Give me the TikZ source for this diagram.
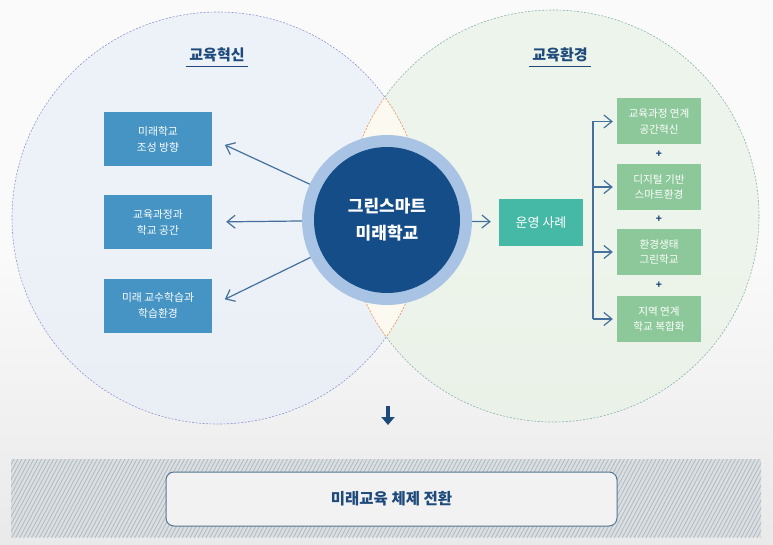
\documentclass[tikz,border=0pt]{standalone}
\usepackage{fontspec}
\setmainfont{Noto Sans CJK KR}
\usetikzlibrary{arrows.meta, positioning, patterns.meta}
\definecolor{innoBlue}{HTML}{4594C3}
\definecolor{envGreen}{HTML}{8DC89B}
\definecolor{caseTeal}{HTML}{45B9A6}
\definecolor{coreBlue}{HTML}{154D89}
\definecolor{ringBlue}{HTML}{A8C3E3}
\definecolor{lineBlue}{HTML}{45709D}
\definecolor{titleBlue}{HTML}{1E4A7B}
\definecolor{fieldBlue}{HTML}{E6EEF7}
\definecolor{fieldGreen}{HTML}{E6F2E4}
\definecolor{lensCream}{HTML}{FCFAF0}
\definecolor{bandGray}{HTML}{DCDFE1}
\definecolor{hatchGray}{HTML}{B0BCC4}
\tikzset{
    innoBox/.style={rectangle, fill=innoBlue, text=white, align=center, minimum width=108pt, minimum height=54pt, font=\fontsize{10.8}{16}\selectfont},
    envBox/.style={rectangle, fill=envGreen, text=white, align=center, minimum width=84pt, minimum height=46pt, font=\fontsize{10.6}{15.5}\selectfont},
    flowArrow/.style={-{Straight Barb[length=8pt, width=13pt]}, line width=1.2pt, draw=lineBlue},
    sideTitle/.style={text=titleBlue, font=\fontsize{15}{17}\selectfont\bfseries},
    plusSign/.style={text=titleBlue, font=\fontsize{10}{10}\selectfont\bfseries, inner sep=0pt}
}
\begin{document}
\begin{tikzpicture}[x=1pt, y=-1pt]
    \useasboundingbox (0,0) rectangle (773,545);
    % background
    \fill[white!96!gray] (0,0) rectangle (773,250);
    \shade[top color=white!96!gray, bottom color=white!83!gray] (0,250) rectangle (773,545);
    % the two fields
    \coordinate (lc) at (218,218);  \coordinate (rc) at (553,216);
    \fill[fieldBlue, opacity=0.65] (lc) circle[radius=206pt];
    \fill[fieldGreen, opacity=0.65] (rc) circle[radius=206pt];
    \draw[gray!60!blue!60, line width=0.6pt, dash pattern=on 2pt off 1.5pt] (lc) circle[radius=206pt];
    \draw[teal!50!gray!60, line width=0.6pt, dash pattern=on 2pt off 1.5pt] (rc) circle[radius=206pt];
    \begin{scope}
        \clip (lc) circle[radius=206pt];
        \fill[lensCream] (rc) circle[radius=206pt];
        \draw[orange!70!red!60, line width=0.6pt, dash pattern=on 2pt off 1.5pt] (rc) circle[radius=206pt];
    \end{scope}
    \begin{scope}
        \clip (rc) circle[radius=206pt];
        \draw[orange!70!red!60, line width=0.6pt, dash pattern=on 2pt off 1.5pt] (lc) circle[radius=206pt];
    \end{scope}

    % titles
    \node[sideTitle] (tInno) at (217,55) {교육혁신};
    \node[sideTitle] (tEnv) at (560,55) {교육환경};
    \draw[titleBlue, line width=1pt] ([yshift=-1pt]tInno.south west) -- ([yshift=-1pt]tInno.south east);
    \draw[titleBlue, line width=1pt] ([yshift=-1pt]tEnv.south west) -- ([yshift=-1pt]tEnv.south east);

    % centre
    \node[circle, fill=ringBlue, minimum size=170pt] (core) at (387,220) {};
    \node[circle, fill=coreBlue, minimum size=146pt, text=white, align=center,
          font=\fontsize{17}{27}\selectfont\bfseries] (coreIn) at (core) {그린스마트\\미래학교};

    % left side
    \node[innoBox] (i1) at (158,139) {미래학교\\조성 방향};
    \node[innoBox] (i2) at (158,222) {교육과정과\\학교 공간};
    \node[innoBox] (i3) at (158,305.5) {미래 교수학습과\\학습환경};
    \foreach \k in {1,2,3}
        \draw[flowArrow, shorten >=14pt] (core) -- (i\k.east);

    % right side
    \node[rectangle, fill=caseTeal, text=white, minimum width=84pt, minimum height=47pt,
          font=\fontsize{13}{15}\selectfont] (case) at (541,222.5) {운영 사례};
    \draw[flowArrow, shorten >=8pt] (core) -- (case);

    \node[envBox] (e1) at (659,121.5) {교육과정 연계\\공간혁신};
    \node[envBox] (e2) at (659,187) {디지털 기반\\스마트환경};
    \node[envBox] (e3) at (659,252) {환경생태\\그린학교};
    \node[envBox] (e4) at (659,319) {지역 연계\\학교 복합화};
    \node[plusSign] at (659,154.5) {+};
    \node[plusSign] at (659,219.5) {+};
    \node[plusSign] at (659,285.5) {+};

    \coordinate (bus) at (593,220);
    \draw[lineBlue, line width=1.2pt] (bus |- e1.west) -- (bus |- e4.west);
    \foreach \k in {1,...,4}
        \draw[flowArrow, shorten >=4pt] (bus |- e\k.west) -- (e\k.west);

    % result
    \coordinate (dnA) at (388,406);  \coordinate (dnB) at (388,425);
    \draw[titleBlue, line width=4.5pt, -{Triangle[length=8pt, width=13pt]}] (dnA) -- (dnB);
    \fill[bandGray] (11,459) rectangle (761,537);
    \fill[pattern={Lines[angle=62, distance=3.5pt, line width=0.9pt]}, pattern color=hatchGray] (11,459) rectangle (761,537);
    \node[rectangle, rounded corners=8pt, fill=white!90!gray, draw=lineBlue!70!gray, line width=1pt,
          minimum width=451pt, minimum height=54pt, text=titleBlue,
          font=\fontsize{15.5}{17}\selectfont\bfseries] (goal) at (391.5,499) {미래교육 체제 전환};
\end{tikzpicture}
\end{document}
